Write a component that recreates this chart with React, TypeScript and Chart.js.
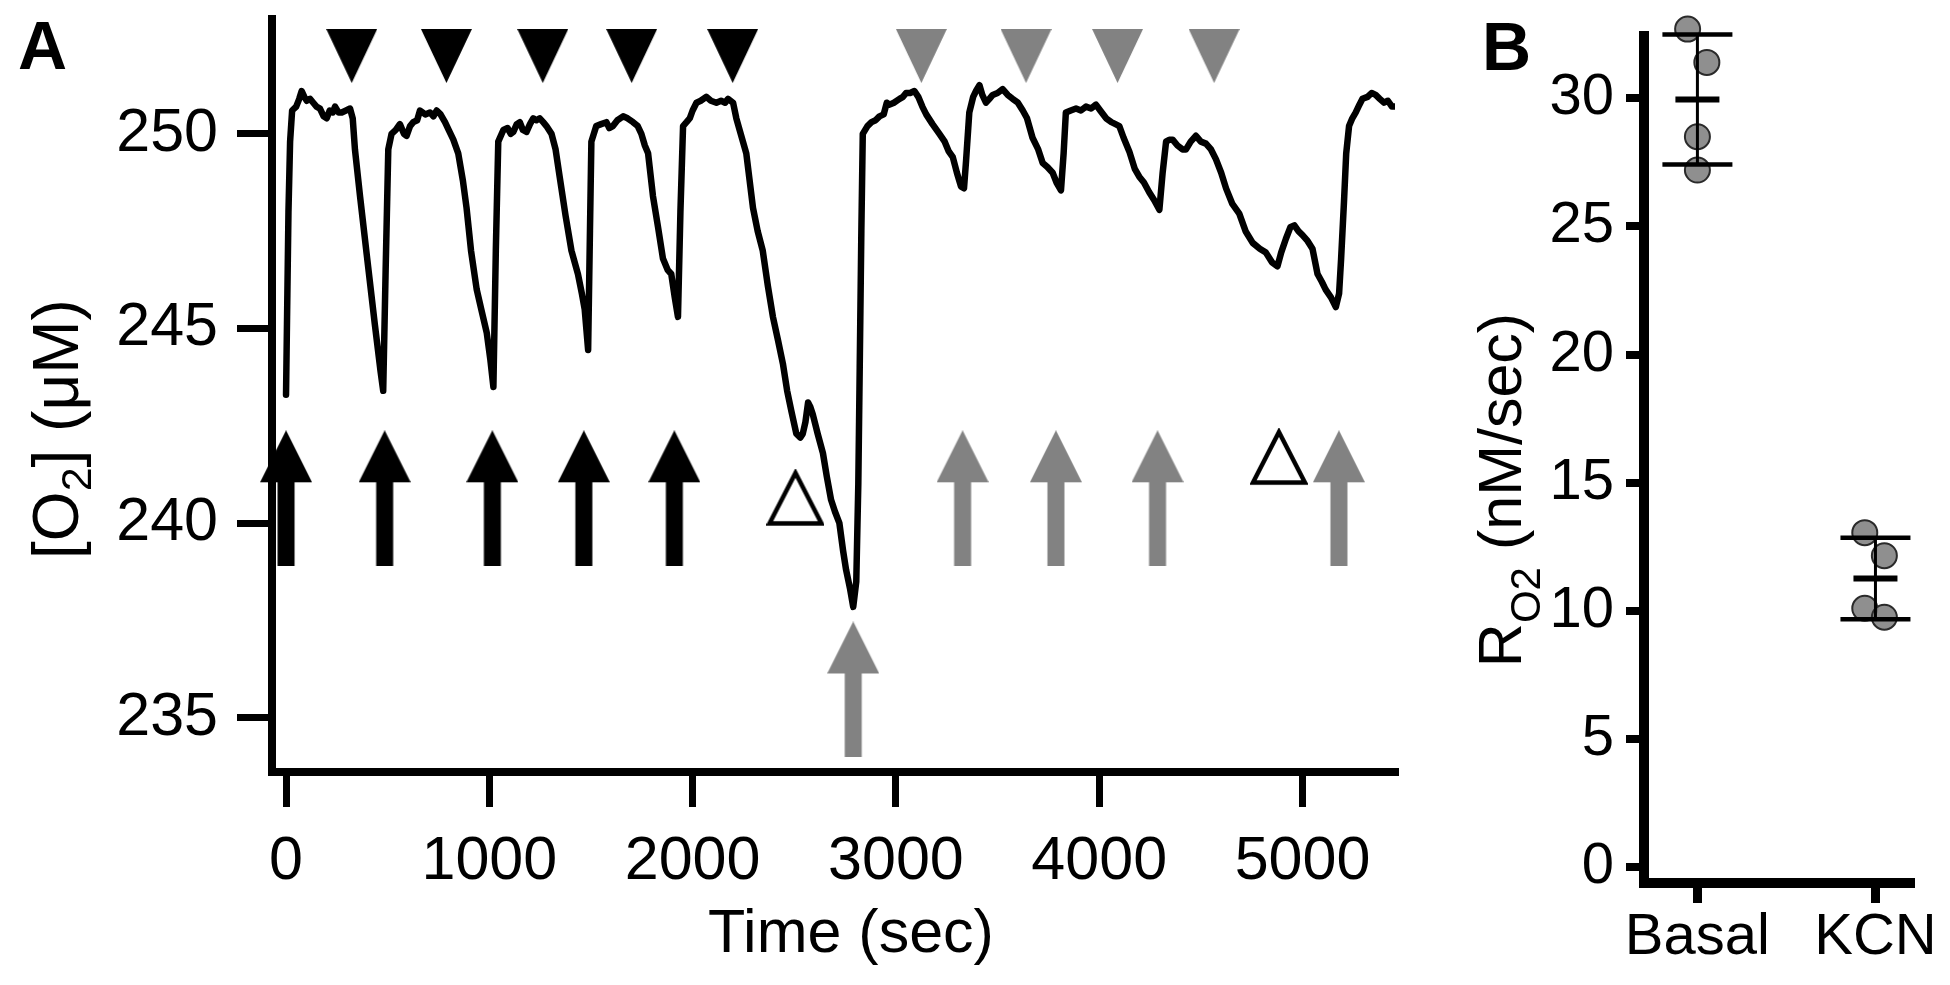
import React, { useEffect, useRef } from "react";
import { Chart, registerables } from "chart.js";

Chart.register(...registerables);

const FONT = '"Liberation Sans", Arial, Helvetica, sans-serif';

// ---------- Panel A data ----------
const TRACE_T = [
  0, 12, 20, 30, 50, 65, 77, 90, 102, 118, 134, 150, 167, 185, 200, 215, 230, 241, 258, 274, 295, 315, 328, 339, 364, 397, 437, 465, 478,
  490, 503, 519, 540, 560, 580, 593, 610, 626, 645, 659, 685, 708, 725, 741, 760, 782, 800, 823, 847,
  870, 888, 910, 938, 960, 987, 1005, 1020,
  1032, 1044, 1069, 1090, 1105, 1118, 1135, 1150, 1165, 1183, 1200, 1216, 1232, 1248, 1265, 1281, 1306,
  1326, 1346, 1375, 1404, 1436, 1455, 1469, 1486,
  1495, 1502, 1526, 1550, 1576, 1590, 1608, 1630, 1658, 1680, 1707, 1730, 1748, 1765, 1781,
  1805, 1830, 1854, 1878, 1895, 1912, 1928,
  1940, 1953, 1970, 1986, 2000, 2019, 2040, 2067, 2090, 2117, 2140, 2160, 2174, 2199,
  2215, 2231, 2264, 2297, 2320, 2345, 2370, 2395, 2420, 2444, 2465, 2485, 2510, 2530, 2542, 2555, 2568, 2578, 2591,
  2615, 2641, 2660, 2681, 2700, 2722, 2740, 2755, 2775, 2790,
  2805, 2815, 2822, 2830, 2837, 2860, 2880, 2900, 2919, 2940, 2955, 2969, 2990, 3018, 3035, 3050, 3070, 3091,
  3110, 3130, 3149, 3180, 3214, 3240, 3260, 3280, 3300, 3320, 3335,
  3345, 3361, 3380, 3394, 3411, 3425, 3443, 3460, 3476, 3500, 3525, 3550, 3574, 3600, 3624, 3645, 3672, 3700, 3722, 3745, 3771, 3790, 3812,
  3825, 3836, 3860, 3886, 3910, 3935, 3960, 3984, 4005, 4034, 4060, 4080, 4099, 4120, 4148, 4175, 4197, 4220, 4246, 4270, 4296,
  4312, 4329, 4345, 4361, 4385, 4410, 4427, 4450, 4476, 4500, 4525, 4550, 4574, 4600, 4624, 4655, 4689, 4720, 4755, 4790, 4820, 4850, 4877,
  4895, 4918, 4940, 4960, 4980, 5000, 5025, 5049, 5074, 5095, 5114, 5140, 5164,
  5180, 5190, 5204, 5215, 5229, 5245, 5262, 5280, 5295, 5320, 5340, 5360, 5380, 5401, 5420, 5440, 5458,
];
const TRACE_O2 = [
  243.3, 248.0, 249.8, 250.6, 250.7, 250.9, 251.1, 250.95, 250.85, 250.9, 250.8, 250.7, 250.65, 250.45, 250.4, 250.6, 250.55, 250.7, 250.55, 250.55, 250.6, 250.65, 250.4, 249.6, 248.4, 246.9, 245.1, 243.9, 243.4,
  246.5, 249.6, 250.0, 250.1, 250.25, 250.0, 249.95, 250.2, 250.3, 250.35, 250.6, 250.5, 250.55, 250.45, 250.6, 250.5, 250.3, 250.1, 249.85, 249.5,
  248.8, 248.1, 247.0, 246.0, 245.5, 244.9, 244.2, 243.5,
  247.0, 249.8, 250.1, 250.15, 250.0, 250.05, 250.25, 250.3, 250.1, 250.05, 250.25, 250.4, 250.35, 250.4, 250.3, 250.2, 250.0,
  249.6, 248.9, 247.9, 247.0, 246.4, 245.9, 245.5, 244.45,
  247.5, 249.8, 250.2, 250.25, 250.3, 250.15, 250.2, 250.35, 250.45, 250.4, 250.3, 250.2, 250.0, 249.7, 249.5,
  248.4, 247.6, 246.8, 246.5, 246.4, 245.8, 245.3,
  248.0, 250.2, 250.3, 250.4, 250.6, 250.8, 250.85, 250.95, 250.85, 250.8, 250.85, 250.8, 250.9, 250.8,
  250.4, 250.1, 249.5, 248.1, 247.5, 247.0, 246.1, 245.3, 244.7, 244.1, 243.4, 242.9, 242.3, 242.2, 242.3, 242.6, 243.1, 243.0, 242.8,
  242.3, 241.8, 241.2, 240.6, 240.3, 240.0, 239.3, 238.8, 238.3, 237.85,
  238.5, 241.0, 244.0, 247.5, 250.0, 250.2, 250.3, 250.35, 250.45, 250.5, 250.8, 250.75, 250.8, 250.9, 250.95, 251.05, 251.05, 251.1,
  250.95, 250.7, 250.5, 250.25, 250.0, 249.8, 249.55, 249.4, 249.0, 248.65, 248.6,
  249.3, 250.55, 250.95, 251.1, 251.25, 251.0, 250.8, 250.9, 251.0, 251.05, 251.15, 251.0, 250.9, 250.8, 250.6, 250.4, 249.9, 249.6, 249.25, 249.15, 249.0, 248.75, 248.55,
  249.5, 250.55, 250.6, 250.65, 250.6, 250.7, 250.65, 250.75, 250.6, 250.4, 250.3, 250.25, 250.2, 249.9, 249.55, 249.1, 248.9, 248.75, 248.5, 248.3, 248.05,
  249.0, 249.8, 249.85, 249.85, 249.7, 249.6, 249.6, 249.8, 249.95, 249.8, 249.75, 249.6, 249.35, 249.0, 248.6, 248.2, 247.95, 247.5, 247.2, 247.05, 246.95, 246.7, 246.6,
  246.95, 247.3, 247.6, 247.65, 247.5, 247.4, 247.25, 247.05, 246.4, 246.2, 246.0, 245.8, 245.55,
  245.9, 246.8, 248.25, 249.5, 250.2, 250.4, 250.55, 250.75, 250.9, 250.95, 251.05, 251.0, 250.9, 250.8, 250.85, 250.7, 250.7,
];
const X_TICKS_A = [0, 1000, 2000, 3000, 4000, 5000];
const Y_TICKS_A = [235, 240, 245, 250];

// stimulus / marker times (sec) and levels (µM) on panel A
const BLACK_DOWN_T = [323, 789, 1263, 1700, 2197];
const GRAY_DOWN_T = [3125, 3640, 4090, 4565];
const DOWN_LEVEL = 252.0;
const BLACK_UP_T = [0, 485, 1015, 1465, 1910];
const GRAY_UP_T = [3328, 3787, 4287, 5179];
const UP_LEVEL = 240.64;
const GRAY_LOW_T = [2790];
const LOW_LEVEL = 235.73;
const OPEN_T = [2506, 4884];
const OPEN_O2 = [240.65, 241.7];

// ---------- Panel B data ----------
const GROUPS = ["Basal", "KCN"];
const BASAL_RATE = [32.7, 31.4, 28.5, 27.2];
const KCN_RATE = [13.05, 12.15, 10.1, 9.75];
const BASAL_JITTER = [-0.055, 0.053, 0, 0];
const KCN_JITTER = [-0.06, 0.05, -0.06, 0.05];
const Y_TICKS_B = [0, 5, 10, 15, 20, 25, 30];

// ---------- helpers ----------
function makeCanvas(w: number, h: number, draw: (c: CanvasRenderingContext2D) => void) {
  const c = document.createElement("canvas");
  c.width = w;
  c.height = h;
  const ctx = c.getContext("2d")!;
  draw(ctx);
  return c;
}

function downTriangle(color: string) {
  return makeCanvas(51, 54, (ctx) => {
    ctx.fillStyle = color;
    ctx.beginPath();
    ctx.moveTo(0, 0);
    ctx.lineTo(51, 0);
    ctx.lineTo(25.5, 54);
    ctx.closePath();
    ctx.fill();
  });
}

function upArrow(color: string) {
  return makeCanvas(52, 136, (ctx) => {
    ctx.fillStyle = color;
    ctx.beginPath();
    ctx.moveTo(26, 0);
    ctx.lineTo(52, 52);
    ctx.lineTo(34.5, 52);
    ctx.lineTo(34.5, 136);
    ctx.lineTo(17.5, 136);
    ctx.lineTo(17.5, 52);
    ctx.lineTo(0, 52);
    ctx.closePath();
    ctx.fill();
  });
}

function openTriangle() {
  return makeCanvas(58, 58, (ctx) => {
    ctx.strokeStyle = "#000";
    ctx.lineWidth = 4.5;
    ctx.lineJoin = "miter";
    ctx.beginPath();
    ctx.moveTo(29, 4);
    ctx.lineTo(55, 54.5);
    ctx.lineTo(3, 54.5);
    ctx.closePath();
    ctx.stroke();
  });
}

type Part = { t: string; s: number; dy: number };

function drawVertical(ctx: CanvasRenderingContext2D, x: number, cy: number, parts: Part[]) {
  ctx.save();
  ctx.translate(x, cy);
  ctx.rotate(-Math.PI / 2);
  ctx.textAlign = "left";
  ctx.textBaseline = "alphabetic";
  ctx.fillStyle = "#000";
  let total = 0;
  const widths = parts.map((p) => {
    ctx.font = `${p.s}px ${FONT}`;
    const w = ctx.measureText(p.t).width;
    total += w;
    return w;
  });
  let pos = -total / 2;
  parts.forEach((p, i) => {
    ctx.font = `${p.s}px ${FONT}`;
    ctx.fillText(p.t, pos, p.dy);
    pos += widths[i];
  });
  ctx.restore();
}

const mean = (a: number[]) => a.reduce((s, v) => s + v, 0) / a.length;
const sd = (a: number[]) => {
  const m = mean(a);
  return Math.sqrt(a.reduce((s, v) => s + (v - m) * (v - m), 0) / (a.length - 1));
};

function zeroPad(s: any) {
  s.paddingTop = 0;
  s.paddingBottom = 0;
  s.paddingLeft = 0;
  s.paddingRight = 0;
}

export default function App() {
  const refA = useRef<HTMLCanvasElement>(null);
  const refB = useRef<HTMLCanvasElement>(null);

  useEffect(() => {
    const gray = "#828282";
    const markerDs = (ts: number[], ys: number[], style: HTMLCanvasElement) => ({
      data: ts.map((t, i) => ({ x: t, y: ys[i] })),
      pointStyle: style,
      pointRadius: 10,
      showLine: false,
      clip: false,
    });

    const textsA = {
      id: "textsA",
      afterDraw(chart: any) {
        const ctx = chart.ctx as CanvasRenderingContext2D;
        ctx.save();
        ctx.fillStyle = "#000";
        ctx.textBaseline = "alphabetic";
        ctx.textAlign = "left";
        ctx.font = `bold 68px ${FONT}`;
        ctx.fillText("A", 18, 69);
        ctx.font = `61px ${FONT}`;
        ctx.textAlign = "center";
        ctx.fillText("Time (sec)", 851, 952);
        drawVertical(ctx, 78, 429, [
          { t: "[O", s: 64, dy: 0 },
          { t: "2", s: 43, dy: 13 },
          { t: "] (\u03BCM)", s: 64, dy: 0 },
        ]);
        ctx.restore();
      },
    };

    const chartA = new Chart(refA.current!, {
      type: "scatter",
      data: {
        datasets: [
          {
            data: TRACE_T.map((t, i) => ({ x: t, y: TRACE_O2[i] })),
            showLine: true,
            borderColor: "#000",
            borderWidth: 6.5,
            borderJoinStyle: "round",
            borderCapStyle: "round",
            pointRadius: 0,
            tension: 0,
          } as any,
          markerDs(BLACK_DOWN_T, BLACK_DOWN_T.map(() => DOWN_LEVEL), downTriangle("#000")) as any,
          markerDs(GRAY_DOWN_T, GRAY_DOWN_T.map(() => DOWN_LEVEL), downTriangle(gray)) as any,
          markerDs(BLACK_UP_T, BLACK_UP_T.map(() => UP_LEVEL), upArrow("#000")) as any,
          markerDs(GRAY_UP_T, GRAY_UP_T.map(() => UP_LEVEL), upArrow(gray)) as any,
          markerDs(GRAY_LOW_T, GRAY_LOW_T.map(() => LOW_LEVEL), upArrow(gray)) as any,
          markerDs(OPEN_T, OPEN_O2, openTriangle()) as any,
        ],
      },
      options: {
        animation: false,
        responsive: false,
        maintainAspectRatio: false,
        devicePixelRatio: 1,
        events: [],
        layout: { padding: { left: 0, top: 19, right: 35, bottom: 0 } },
        plugins: { legend: { display: false }, tooltip: { enabled: false } },
        scales: {
          x: {
            type: "linear",
            min: -69,
            max: 5455,
            afterBuildTicks: (s: any) => {
              s.ticks = X_TICKS_A.map((value) => ({ value }));
            },
            afterFit: (s: any) => {
              s.height = 213;
              zeroPad(s);
            },
            grid: {
              display: true,
              drawOnChartArea: false,
              drawTicks: true,
              tickLength: 35,
              lineWidth: 7,
              tickWidth: 7,
              color: "#000",
              tickColor: "#000",
            },
            border: { display: true, color: "#000", width: 8 },
            ticks: {
              color: "#000",
              font: { family: FONT, size: 61, lineHeight: 1 },
              padding: 25,
              maxRotation: 0,
              autoSkip: false,
              callback: (v: any) => String(v),
            },
          },
          y: {
            type: "linear",
            min: 233.61,
            max: 252.95,
            afterBuildTicks: (s: any) => {
              s.ticks = Y_TICKS_A.map((value) => ({ value }));
            },
            afterFit: (s: any) => {
              s.width = 272;
              zeroPad(s);
            },
            grid: {
              display: true,
              drawOnChartArea: false,
              drawTicks: true,
              tickLength: 35,
              lineWidth: 7,
              tickWidth: 7,
              color: "#000",
              tickColor: "#000",
            },
            border: { display: true, color: "#000", width: 8 },
            ticks: {
              color: "#000",
              font: { family: FONT, size: 61 },
              padding: 19,
              autoSkip: false,
              callback: (v: any) => String(v),
            },
          },
        },
      },
      plugins: [textsA],
    } as any);

    // ---------- Panel B ----------
    const groupValues = [BASAL_RATE, KCN_RATE];
    const errorBars = {
      id: "errorBars",
      afterDatasetsDraw(chart: any) {
        const ctx = chart.ctx as CanvasRenderingContext2D;
        const xs = chart.scales.x;
        const ys = chart.scales.y;
        ctx.save();
        ctx.strokeStyle = "#000";
        ctx.lineCap = "butt";
        groupValues.forEach((vals, i) => {
          const m = mean(vals);
          const s = sd(vals);
          const cx = xs.getPixelForValue(i);
          const yTop = ys.getPixelForValue(m + s);
          const yBot = ys.getPixelForValue(m - s);
          const yM = ys.getPixelForValue(m);
          const seg = (x1: number, y1: number, x2: number, y2: number, w: number) => {
            ctx.lineWidth = w;
            ctx.beginPath();
            ctx.moveTo(x1, y1);
            ctx.lineTo(x2, y2);
            ctx.stroke();
          };
          seg(cx, yTop, cx, yBot, 3);
          seg(cx - 35, yTop, cx + 35, yTop, 4.5);
          seg(cx - 35, yBot, cx + 35, yBot, 4.5);
          seg(cx - 22, yM, cx + 22, yM, 6);
        });
        ctx.restore();
      },
    };

    const textsB = {
      id: "textsB",
      afterDraw(chart: any) {
        const ctx = chart.ctx as CanvasRenderingContext2D;
        ctx.save();
        ctx.fillStyle = "#000";
        ctx.textBaseline = "alphabetic";
        ctx.textAlign = "left";
        ctx.font = `bold 68px ${FONT}`;
        ctx.fillText("B", 52, 70);
        drawVertical(ctx, 91, 490, [
          { t: "R", s: 61, dy: 0 },
          { t: "O2", s: 42, dy: 19 },
          { t: " (nM/sec)", s: 61, dy: 0 },
        ]);
        ctx.restore();
      },
    };

    const pointStyleB = {
      pointRadius: 12.5,
      pointBackgroundColor: "rgba(128,128,128,0.88)",
      pointBorderColor: "#2a2a2a",
      pointBorderWidth: 2,
      showLine: false,
      clip: false,
    };

    const chartB = new Chart(refB.current!, {
      type: "scatter",
      data: {
        datasets: [
          { data: BASAL_RATE.map((v, i) => ({ x: 0 + BASAL_JITTER[i], y: v })), ...pointStyleB } as any,
          { data: KCN_RATE.map((v, i) => ({ x: 1 + KCN_JITTER[i], y: v })), ...pointStyleB } as any,
        ],
      },
      options: {
        animation: false,
        responsive: false,
        maintainAspectRatio: false,
        devicePixelRatio: 1,
        events: [],
        layout: { padding: { left: 0, top: 36, right: 40, bottom: 0 } },
        plugins: { legend: { display: false }, tooltip: { enabled: false } },
        scales: {
          x: {
            type: "linear",
            min: -0.3,
            max: 1.194,
            afterBuildTicks: (s: any) => {
              s.ticks = GROUPS.map((_, i) => ({ value: i }));
            },
            afterFit: (s: any) => {
              s.height = 102;
              zeroPad(s);
            },
            grid: {
              display: true,
              drawOnChartArea: false,
              drawTicks: true,
              tickLength: 20,
              lineWidth: 9,
              tickWidth: 9,
              color: "#000",
              tickColor: "#000",
            },
            border: { display: true, color: "#000", width: 10 },
            ticks: {
              color: "#000",
              font: { family: FONT, size: 58, lineHeight: 1 },
              padding: 6,
              maxRotation: 0,
              autoSkip: false,
              callback: (v: any) => GROUPS[Math.round(Number(v))] ?? "",
            },
          },
          y: {
            type: "linear",
            min: -0.62,
            max: 32.43,
            afterBuildTicks: (s: any) => {
              s.ticks = Y_TICKS_B.map((value) => ({ value }));
            },
            afterFit: (s: any) => {
              s.width = 214;
              zeroPad(s);
            },
            grid: {
              display: true,
              drawOnChartArea: false,
              drawTicks: true,
              tickLength: 18,
              lineWidth: 8,
              tickWidth: 8,
              color: "#000",
              tickColor: "#000",
            },
            border: { display: true, color: "#000", width: 10 },
            ticks: {
              color: "#000",
              font: { family: FONT, size: 58 },
              padding: 12,
              autoSkip: false,
              callback: (v: any) => String(v),
            },
          },
        },
      },
      plugins: [errorBars, textsB],
    } as any);

    return () => {
      chartA.destroy();
      chartB.destroy();
    };
  }, []);

  return (
    <div style={{ position: "absolute", left: 0, top: 0, width: 1950, height: 985, background: "#fff", overflow: "hidden" }}>
      <div style={{ position: "absolute", left: 0, top: 0, width: 1430, height: 985 }}>
        <canvas ref={refA} width={1430} height={985} style={{ width: 1430, height: 985 }} />
      </div>
      <div style={{ position: "absolute", left: 1430, top: 0, width: 520, height: 985 }}>
        <canvas ref={refB} width={520} height={985} style={{ width: 520, height: 985 }} />
      </div>
    </div>
  );
}
